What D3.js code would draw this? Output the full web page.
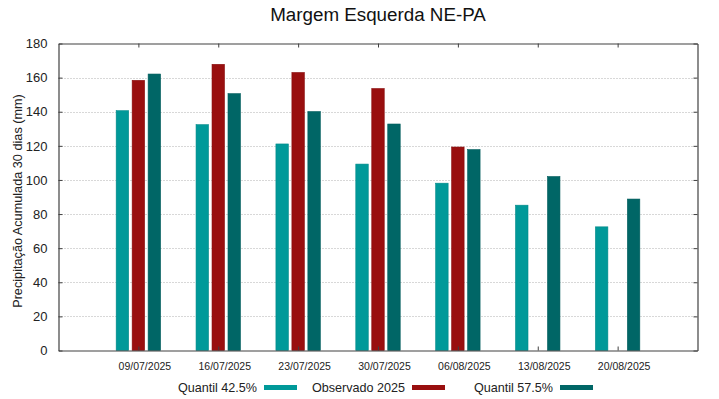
<!DOCTYPE html>
<html>
<head>
<meta charset="utf-8">
<script src="https://cdn.jsdelivr.net/npm/d3@7"></script>
<style>
  body { margin: 0; background: #fff; }
  svg { display: block; font-family: "Liberation Sans", Arial, sans-serif; }
</style>
</head>
<body>
<div id="chart"></div>
<script>
// categories and series
var dates = ["09/07/2025", "16/07/2025", "23/07/2025", "30/07/2025", "06/08/2025", "13/08/2025", "20/08/2025"];
var quantil425 = [140.6, 132.4, 121.1, 109.3, 98.1, 85.2, 72.5];
var observado = [158.4, 167.8, 163.0, 153.6, 119.3, null, null];
var quantil575 = [162.1, 150.6, 140.1, 132.8, 117.8, 102.0, 88.8];
var yTicks = [0, 20, 40, 60, 80, 100, 120, 140, 160, 180];

var series = [
  { name: "Quantil 42.5%", values: quantil425, color: "#009999", offset: -0.2 },
  { name: "Observado 2025", values: observado, color: "#990f0f", offset: 0 },
  { name: "Quantil 57.5%", values: quantil575, color: "#006666", offset: 0.2 }
];

var width = 719, height = 399;
// plot box (note: "top" is reserved on window, so use a margin object)
var plot = { left: 58.5, right: 697.5, top: 43.5, bottom: 350.5 };

var svg = d3.select("#chart").append("svg")
  .attr("width", width)
  .attr("height", height);

// x is an index scale, one unit per week, padded by one unit each side
var x = d3.scaleLinear().domain([-1, dates.length]).range([plot.left, plot.right]);
var y = d3.scaleLinear().domain([0, 180]).range([plot.bottom, plot.top]);
var barW = 0.156;

// grid lines
svg.append("g")
  .selectAll("line")
  .data(yTicks.filter(function (d) { return d > 0 && d < 180; }))
  .join("line")
  .attr("x1", plot.left)
  .attr("x2", plot.right)
  .attr("y1", function (d) { return Math.round(y(d)) + 0.5; })
  .attr("y2", function (d) { return Math.round(y(d)) + 0.5; })
  .attr("stroke", "#b0b0b0")
  .attr("stroke-width", 1)
  .attr("stroke-dasharray", "1,2");

// bars
series.forEach(function (s) {
  svg.append("g")
    .selectAll("rect")
    .data(s.values.map(function (v, i) { return { i: i, v: v }; }).filter(function (d) { return d.v != null; }))
    .join("rect")
    .attr("x", function (d) { return x(d.i + s.offset - barW / 2); })
    .attr("width", x(barW) - x(0))
    .attr("y", function (d) { return y(d.v); })
    .attr("height", function (d) { return y(0) - y(d.v); })
    .attr("fill", s.color)
    .attr("stroke", d3.color(s.color).darker(0.3))
    .attr("stroke-width", 0.6);
});

// axes (gnuplot style: box with mirrored inward ticks)
var xAxisBottom = d3.axisBottom(x).tickValues(d3.range(dates.length))
  .tickFormat(function (i) { return dates[i]; }).tickSize(-4).tickPadding(12).tickSizeOuter(0);
var xAxisTop = d3.axisTop(x).tickValues(d3.range(dates.length))
  .tickFormat("").tickSize(-4).tickSizeOuter(0);
var yAxisLeft = d3.axisLeft(y).tickValues(yTicks).tickSize(-4).tickPadding(11).tickSizeOuter(0);
var yAxisRight = d3.axisRight(y).tickValues(yTicks).tickFormat("").tickSize(-4).tickSizeOuter(0);

var gb = svg.append("g").attr("transform", "translate(0," + plot.bottom + ")").call(xAxisBottom);
var gt = svg.append("g").attr("transform", "translate(0," + plot.top + ")").call(xAxisTop);
var gl = svg.append("g").attr("transform", "translate(" + plot.left + ",0)").call(yAxisLeft);
var gr = svg.append("g").attr("transform", "translate(" + plot.right + ",0)").call(yAxisRight);

[gb, gt, gl, gr].forEach(function (g) {
  g.select(".domain").attr("stroke", "#404040").attr("stroke-width", 1.2);
  g.selectAll(".tick line").attr("stroke", "#404040").attr("stroke-width", 1);
});
// date labels sit a little right of their ticks in the original
gb.selectAll(".tick text")
  .attr("dx", 6)
  .attr("font-size", 10.5)
  .attr("fill", "#222")
  .attr("font-family", "Liberation Sans, Arial, sans-serif");
gl.selectAll(".tick text")
  .attr("font-size", 13)
  .attr("fill", "#222")
  .attr("font-family", "Liberation Sans, Arial, sans-serif");

// title
svg.append("text")
  .attr("x", (plot.left + plot.right) / 2)
  .attr("y", 21)
  .attr("text-anchor", "middle")
  .attr("font-size", 18.8)
  .attr("fill", "#111")
  .text("Margem Esquerda NE-PA");

// y label
svg.append("text")
  .attr("transform", "translate(22," + ((plot.top + plot.bottom) / 2 + 4) + ") rotate(-90)")
  .attr("text-anchor", "middle")
  .attr("font-size", 12.7)
  .attr("fill", "#222")
  .text("Precipitação Acumulada 30 dias (mm)");

// legend
var legend = svg.append("g")
  .selectAll("g")
  .data(series)
  .join("g")
  .attr("transform", function (d, i) { return "translate(" + (257 + i * 148) + ",0)"; });

legend.append("text")
  .attr("x", 0)
  .attr("y", 392)
  .attr("text-anchor", "end")
  .attr("font-size", 12.6)
  .attr("fill", "#222")
  .text(function (d) { return d.name; });

legend.append("rect")
  .attr("x", 7)
  .attr("y", 385)
  .attr("width", 33)
  .attr("height", 5)
  .attr("fill", function (d) { return d.color; });
</script>
</body>
</html>
